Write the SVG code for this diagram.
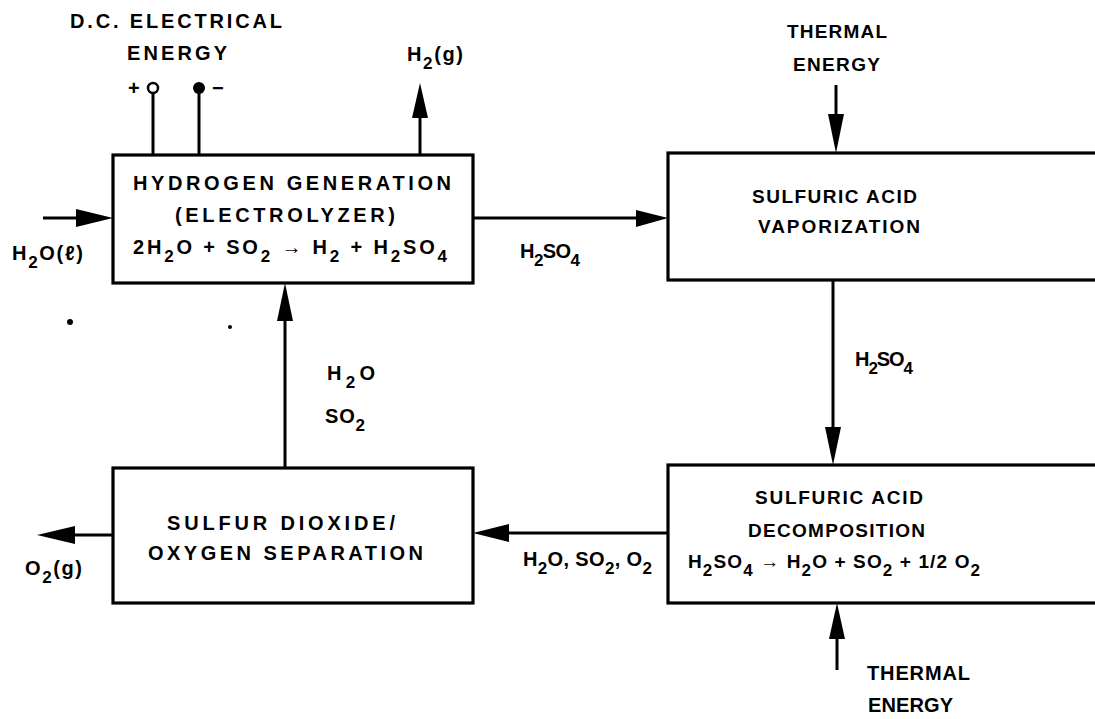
<svg xmlns="http://www.w3.org/2000/svg" width="1095" height="719" viewBox="0 0 1095 719">
<style>
.t{font-family:"Liberation Sans",Arial,sans-serif;font-weight:bold;font-size:20px;fill:#000}
.r{font-size:19px}
.s{font-size:17px}
.box{fill:#fff;stroke:#000;stroke-width:3.2}
.ln{stroke:#000;stroke-width:3;fill:none}
.hd{fill:#000}
</style>
<rect width="1095" height="719" fill="#fff"/>
<g id="connectors">
  <line class="ln" x1="43" y1="218" x2="80" y2="218"/>
  <polygon class="hd" points="113,218 76,209 76,227"/>
  <line class="ln" x1="420" y1="155" x2="420" y2="112"/>
  <polygon class="hd" points="420,83 412,118 428,118"/>
  <line class="ln" x1="153" y1="93" x2="153" y2="155"/>
  <circle cx="153" cy="88" r="5" fill="#fff" stroke="#000" stroke-width="2.5"/>
  <line class="ln" x1="199" y1="88" x2="199" y2="155"/>
  <circle cx="199" cy="88" r="6" fill="#000"/>
  <line class="ln" x1="473" y1="218" x2="640" y2="218"/>
  <polygon class="hd" points="668,218 636,210 636,227"/>
  <line class="ln" x1="836" y1="85" x2="836" y2="120"/>
  <polygon class="hd" points="836,153 828,114 844,114"/>
  <line class="ln" x1="833" y1="280" x2="833" y2="432"/>
  <polygon class="hd" points="833,465 825,427 841,427"/>
  <line class="ln" x1="837" y1="670" x2="837" y2="632"/>
  <polygon class="hd" points="837,603 829,639 845,639"/>
  <line class="ln" x1="668" y1="533" x2="505" y2="533"/>
  <polygon class="hd" points="473,533 509,524 509,542"/>
  <line class="ln" x1="285" y1="468" x2="285" y2="315"/>
  <polygon class="hd" points="285,283 277,321 293,321"/>
  <line class="ln" x1="113" y1="535" x2="70" y2="535"/>
  <polygon class="hd" points="37,535 75,526 75,544"/>
</g>
<g id="labels">
  <text class="t" x="70" y="28" textLength="212">D.C. ELECTRICAL</text>
  <text class="t" x="127" y="60" textLength="100">ENERGY</text>
  <text class="t" x="128" y="95">+</text>
  <text class="t" x="212" y="95">−</text>
  <text class="t" x="407" y="61" textLength="56">H<tspan class="s" dy="8">2</tspan><tspan dy="-8">(g)</tspan></text>
  <text class="t" x="12" y="260" textLength="71">H<tspan class="s" dy="8">2</tspan><tspan dy="-8">O(ℓ)</tspan></text>
  <text class="t" x="520" y="258" textLength="60">H<tspan class="s" dy="8">2</tspan><tspan dy="-8">SO</tspan><tspan class="s" dy="8">4</tspan></text>
  <text class="t r" x="787" y="38" textLength="100">THERMAL</text>
  <text class="t r" x="793" y="71" textLength="87">ENERGY</text>
  <text class="t" x="855" y="366" textLength="58">H<tspan class="s" dy="8">2</tspan><tspan dy="-8">SO</tspan><tspan class="s" dy="8">4</tspan></text>
  <text class="t" x="867" y="680" textLength="103">THERMAL</text>
  <text class="t" x="868" y="712" textLength="85">ENERGY</text>
  <text class="t" x="523" y="566" textLength="129">H<tspan class="s" dy="8">2</tspan><tspan dy="-8">O, SO</tspan><tspan class="s" dy="8">2</tspan><tspan dy="-8">, O</tspan><tspan class="s" dy="8">2</tspan></text>
  <text class="t" x="327" y="380" textLength="48">H<tspan class="s" dy="8">2</tspan><tspan dy="-8">O</tspan></text>
  <text class="t" x="325" y="423" textLength="40">SO<tspan class="s" dy="8">2</tspan></text>
  <text class="t" x="25" y="575" textLength="57">O<tspan class="s" dy="8">2</tspan><tspan dy="-8">(g)</tspan></text>
  <circle cx="70" cy="322" r="3" fill="#000"/>
  <circle cx="230" cy="327" r="2" fill="#000"/>
</g>
<g id="hydrogen-generation">
  <rect class="box" x="113" y="155" width="360" height="128"/>
  <text class="t" x="133" y="190" textLength="318">HYDROGEN GENERATION</text>
  <text class="t" x="175" y="222" textLength="220">(ELECTROLYZER)</text>
  <text class="t" x="133" y="254" textLength="314">2H<tspan class="s" dy="8">2</tspan><tspan dy="-8">O + SO</tspan><tspan class="s" dy="8">2</tspan><tspan dy="-8"> → H</tspan><tspan class="s" dy="8">2</tspan><tspan dy="-8"> + H</tspan><tspan class="s" dy="8">2</tspan><tspan dy="-8">SO</tspan><tspan class="s" dy="8">4</tspan></text>
</g>
<g id="sulfuric-acid-vaporization">
  <rect class="box" x="668" y="153" width="440" height="127"/>
  <text class="t r" x="752" y="203" textLength="165">SULFURIC ACID</text>
  <text class="t r" x="758" y="233" textLength="162">VAPORIZATION</text>
</g>
<g id="sulfuric-acid-decomposition">
  <rect class="box" x="668" y="465" width="440" height="138"/>
  <text class="t r" x="755" y="504" textLength="168">SULFURIC ACID</text>
  <text class="t r" x="748" y="537" textLength="177">DECOMPOSITION</text>
  <text class="t r" x="688" y="568" textLength="292">H<tspan class="s" dy="8">2</tspan><tspan dy="-8">SO</tspan><tspan class="s" dy="8">4</tspan><tspan dy="-8"> → H</tspan><tspan class="s" dy="8">2</tspan><tspan dy="-8">O + SO</tspan><tspan class="s" dy="8">2</tspan><tspan dy="-8"> + 1/2 O</tspan><tspan class="s" dy="8">2</tspan></text>
</g>
<g id="so2-o2-separation">
  <rect class="box" x="113" y="468" width="360" height="135"/>
  <text class="t" x="167" y="530" textLength="228">SULFUR DIOXIDE/</text>
  <text class="t" x="148" y="560" textLength="275">OXYGEN SEPARATION</text>
</g>
</svg>
